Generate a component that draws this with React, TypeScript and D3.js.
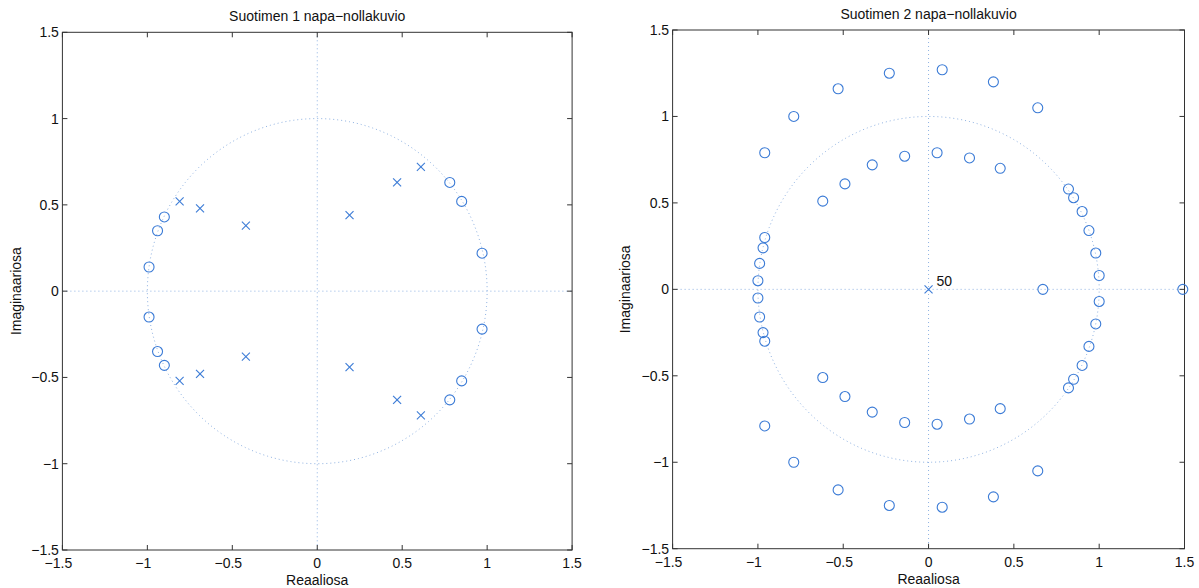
import React from "react";
import * as d3 from "d3";

// ---------- data ----------
const TICKS = [-1.5, -1, -0.5, 0, 0.5, 1, 1.5];
const TICK_LABELS = ["−1.5", "−1", "−0.5", "0", "0.5", "1", "1.5"];

// Filter 1: zeros (circles)
const F1_ZEROS_RE = [-0.99, -0.94, -0.9, 0.78, 0.85, 0.97, -0.99, -0.94, -0.9, 0.78, 0.85, 0.97];
const F1_ZEROS_IM = [0.14, 0.35, 0.43, 0.63, 0.52, 0.22, -0.15, -0.35, -0.43, -0.63, -0.52, -0.22];
// Filter 1: poles (crosses)
const F1_POLES_RE = [-0.81, -0.69, -0.42, 0.19, 0.47, 0.61, -0.81, -0.69, -0.42, 0.19, 0.47, 0.61];
const F1_POLES_IM = [0.52, 0.48, 0.38, 0.44, 0.63, 0.72, -0.52, -0.48, -0.38, -0.44, -0.63, -0.72];

// Filter 2: zeros (circles)
const F2_ZEROS_RE = [
  -0.96, -0.79, -0.53, -0.23, 0.08, 0.38, 0.64,
  -0.62, -0.49, -0.33, -0.14, 0.05, 0.24, 0.42,
  0.82, 0.85, 0.9, 0.94, 0.98, 1.0,
  -0.96, -0.97, -0.99, -1.0,
  0.67, 1.49,
  -0.96, -0.79, -0.53, -0.23, 0.08, 0.38, 0.64,
  -0.62, -0.49, -0.33, -0.14, 0.05, 0.24, 0.42,
  0.82, 0.85, 0.9, 0.94, 0.98, 1.0,
  -1.0, -0.99, -0.97, -0.96,
];
const F2_ZEROS_IM = [
  0.79, 1.0, 1.16, 1.25, 1.27, 1.2, 1.05,
  0.51, 0.61, 0.72, 0.77, 0.79, 0.76, 0.7,
  0.58, 0.53, 0.45, 0.34, 0.21, 0.08,
  0.3, 0.24, 0.15, 0.05,
  0, 0,
  -0.79, -1.0, -1.16, -1.25, -1.26, -1.2, -1.05,
  -0.51, -0.62, -0.71, -0.77, -0.78, -0.75, -0.69,
  -0.57, -0.52, -0.44, -0.33, -0.2, -0.07,
  -0.05, -0.16, -0.25, -0.3,
];
// Filter 2: poles
const F2_POLES_RE = [0];
const F2_POLES_IM = [0];
const F2_POLE_MULT = ["50"];

const TITLES = ["Suotimen 1 napa−nollakuvio", "Suotimen 2 napa−nollakuvio"];
const XLABEL = "Reaaliosa";
const YLABEL = "Imaginaariosa";

// ---------- style ----------
const BLUE = "#3b7bd6";
const DOT_BLUE = "#8fb2e2";
const AXIS = "#333";
const TEXT = "#111";
const FONT = "'Liberation Sans', Arial, Helvetica, sans-serif";

type PanelProps = {
  x0: number; x1: number; y0: number; y1: number;
  title: string; titleY: number; ylabelX: number;
  zre: number[]; zim: number[]; pre: number[]; pim: number[];
  mult?: string[];
};

function Panel(p: PanelProps) {
  const xs = d3.scaleLinear().domain([-1.5, 1.5]).range([p.x0, p.x1]);
  const ys = d3.scaleLinear().domain([-1.5, 1.5]).range([p.y1, p.y0]);
  const circ = d3.range(0, 361, 1).map((a) => [Math.cos((a * Math.PI) / 180), Math.sin((a * Math.PI) / 180)] as [number, number]);
  const circPath = d3.line<[number, number]>().x((d) => xs(d[0])).y((d) => ys(d[1]))(circ) || "";
  const tl = 5;
  const cx = (p.x0 + p.x1) / 2;
  const cy = (p.y0 + p.y1) / 2;
  return (
    <g>
      {/* dotted reference lines */}
      <g stroke={DOT_BLUE} strokeWidth={1} strokeDasharray="1,3" fill="none">
        <line x1={p.x0} x2={p.x1} y1={ys(0)} y2={ys(0)} />
        <line x1={xs(0)} x2={xs(0)} y1={p.y0} y2={p.y1} />
        <path d={circPath} />
      </g>
      {/* box */}
      <rect x={p.x0} y={p.y0} width={p.x1 - p.x0} height={p.y1 - p.y0} fill="none" stroke={AXIS} strokeWidth={1} />
      {/* ticks */}
      <g stroke={AXIS} strokeWidth={1}>
        {TICKS.map((t, i) => (
          <g key={"t" + i}>
            <line x1={xs(t)} x2={xs(t)} y1={p.y1} y2={p.y1 - tl} />
            <line x1={xs(t)} x2={xs(t)} y1={p.y0} y2={p.y0 + tl} />
            <line x1={p.x0} x2={p.x0 + tl} y1={ys(t)} y2={ys(t)} />
            <line x1={p.x1} x2={p.x1 - tl} y1={ys(t)} y2={ys(t)} />
          </g>
        ))}
      </g>
      <g fontFamily={FONT} fontSize={14} fill={TEXT}>
        {TICKS.map((t, i) => (
          <text key={"xl" + i} x={xs(t) - (t < 0 ? 4 : 0)} y={p.y1 + 18} textAnchor="middle">{TICK_LABELS[i]}</text>
        ))}
        {TICKS.map((t, i) => (
          <text key={"yl" + i} x={p.x0 - 3.5} y={ys(t) + 5} textAnchor="end">{TICK_LABELS[i]}</text>
        ))}
      </g>
      <g fontFamily={FONT} fontSize={14} fill={TEXT}>
        <text x={cx} y={p.titleY} textAnchor="middle">{p.title}</text>
        <text x={cx} y={p.y1 + 35} textAnchor="middle">{XLABEL}</text>
        <text transform={`translate(${p.ylabelX},${cy}) rotate(-90)`} textAnchor="middle">{YLABEL}</text>
      </g>
      {/* zeros */}
      <g stroke={BLUE} strokeWidth={1.1} fill="none">
        {p.zre.map((r, i) => (
          <circle key={"z" + i} cx={xs(r)} cy={ys(p.zim[i])} r={5} />
        ))}
      </g>
      {/* poles */}
      <g stroke={BLUE} strokeWidth={1.1}>
        {p.pre.map((r, i) => {
          const X = xs(r), Y = ys(p.pim[i]);
          return (
            <g key={"p" + i}>
              <line x1={X - 4} x2={X + 4} y1={Y - 4} y2={Y + 4} />
              <line x1={X - 4} x2={X + 4} y1={Y + 4} y2={Y - 4} />
            </g>
          );
        })}
      </g>
      {p.mult && p.pre.map((r, i) => (
        <text key={"m" + i} x={xs(r) + 8} y={ys(p.pim[i]) - 3} fontFamily={FONT} fontSize={14} fill={TEXT}>{p.mult![i]}</text>
      ))}
    </g>
  );
}

export default function App() {
  return (
    <svg width={1199} height={588} style={{ position: "absolute", left: 0, top: 0, background: "#fff" }}>
      <rect x={0} y={0} width={1199} height={588} fill="#fff" />
      <Panel x0={62.4} x1={572.1} y0={32.3} y1={550} title={TITLES[0]} titleY={20.5} ylabelX={21}
        zre={F1_ZEROS_RE} zim={F1_ZEROS_IM} pre={F1_POLES_RE} pim={F1_POLES_IM} />
      <Panel x0={672.6} x1={1184.5} y0={30} y1={548.7} title={TITLES[1]} titleY={19} ylabelX={630}
        zre={F2_ZEROS_RE} zim={F2_ZEROS_IM} pre={F2_POLES_RE} pim={F2_POLES_IM} mult={F2_POLE_MULT} />
    </svg>
  );
}
